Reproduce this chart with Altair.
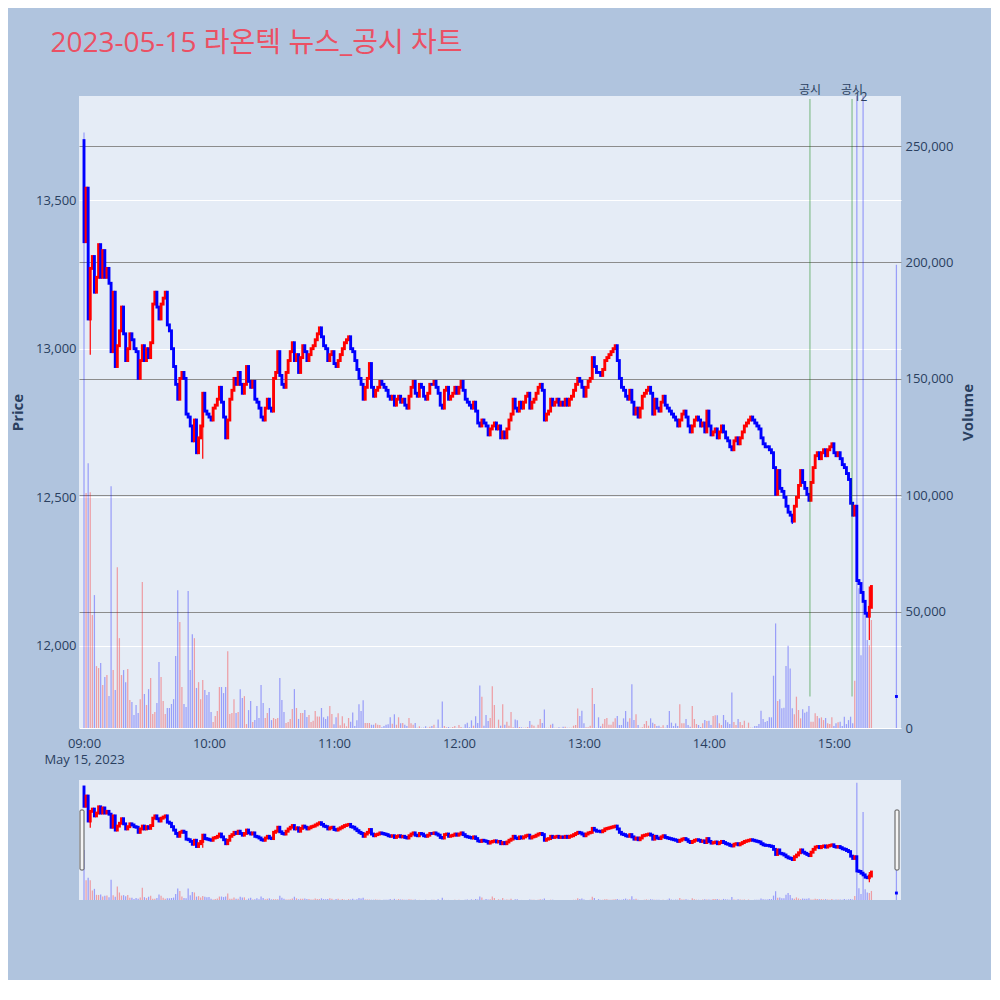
import altair as alt
import pandas as pd

# ---------------- text ----------------
title_text = "2023-05-15 라온텍 뉴스_공시 차트"
date_label = "May 15, 2023"
x_tick_minutes = [0, 60, 120, 180, 240, 300, 360]
x_tick_labels = ["09:00", "10:00", "11:00", "12:00", "13:00", "14:00", "15:00"]
price_ticks = [12000, 12500, 13000, 13500]
volume_ticks = [0, 50000, 100000, 150000, 200000, 250000]

# ---------------- 1-minute closes (minute 0 = 09:00) ----------------
first_open = 13700
close_a = [13360, 13540, 13100, 13270, 13310, 13190, 13240, 13350, 13240, 13330,
           13240, 13270, 13220, 12990, 13190, 12940, 13010, 13060, 13140, 13050,
           12960, 13000, 13050, 13030, 13000, 12990, 12900, 12960, 13010, 12960,
           13000, 12970, 13020, 13150, 13190, 13140, 13100, 13150, 13170, 13190,
           13080, 13060, 13000, 12940, 12880, 12830, 12900, 12920, 12900, 12780,
           12770, 12740, 12690, 12760, 12650, 12700, 12740, 12850, 12790, 12780,
           12770, 12760, 12800, 12810, 12830, 12870, 12820, 12770, 12700, 12760,
           12830, 12860, 12900, 12880, 12920, 12880, 12850, 12880, 12940]
close_b = [12890, 12870, 12890, 12830, 12820, 12800, 12770, 12760, 12800, 12830,
           12800, 12790, 12900, 12920, 12990, 12910, 12880, 12870, 12920, 12960,
           12990, 13020, 12960, 12980, 12920, 12970, 13010, 12990, 12960, 12980,
           13000, 13010, 13030, 13050, 13070, 13040, 13010, 13000, 12960, 12980,
           12990, 12950, 12940, 12960, 12980, 13000, 13020, 13030, 13040, 13000,
           12990, 12960, 12930, 12900, 12880, 12830, 12870, 12900, 12950, 12870,
           12840, 12860, 12870, 12890, 12880, 12870, 12860, 12840, 12830, 12840,
           12810, 12830, 12840, 12820, 12830, 12810, 12800, 12840, 12870, 12890,
           12850, 12840]
close_c = [12880, 12870, 12840, 12830, 12850, 12880, 12880, 12890, 12870, 12850,
           12810, 12800, 12860, 12870, 12830, 12840, 12850, 12870, 12850, 12870,
           12890, 12860, 12830, 12820, 12810, 12800, 12820, 12790, 12750, 12740,
           12760, 12750, 12740, 12710, 12730, 12740, 12750, 12730, 12740, 12700,
           12720, 12700, 12730, 12760, 12780, 12830, 12800, 12790, 12820, 12800,
           12820, 12840, 12850, 12800, 12820, 12830, 12850, 12870, 12880, 12860,
           12760, 12780, 12790, 12830, 12810, 12820, 12830, 12810, 12820, 12810,
           12830, 12810, 12830, 12840, 12860, 12880, 12900, 12890, 12870, 12840,
           12870, 12890, 12900, 12970]
close_d = [12940, 12920, 12920, 12910, 12930, 12960, 12970, 12980, 12990, 13000,
           13010, 12960, 12900, 12870, 12860, 12840, 12830, 12860, 12820, 12780,
           12800, 12770, 12800, 12840, 12850, 12860, 12870, 12850, 12780, 12830,
           12800, 12790, 12820, 12840, 12810, 12800, 12790, 12780, 12770, 12760,
           12740, 12760, 12780, 12790, 12770, 12740, 12720, 12740, 12760, 12770,
           12760, 12740, 12750, 12720, 12790, 12740, 12710, 12720, 12730, 12700,
           12720, 12740, 12720, 12700, 12690, 12670, 12660, 12690, 12700, 12680,
           12700, 12720, 12740, 12750, 12760, 12770, 12760, 12750, 12740, 12730,
           12700]
close_e = [12680, 12670, 12670, 12660, 12650, 12600, 12510, 12590, 12530, 12520,
           12500, 12470, 12450, 12440, 12420, 12470, 12500, 12540, 12590, 12550,
           12530, 12510, 12490, 12550, 12600, 12640, 12650, 12630, 12650, 12660,
           12640, 12660, 12670, 12680, 12650, 12640, 12650, 12630, 12610, 12600,
           12580, 12560, 12480, 12440, 12470, 12220, 12210, 12180, 12150, 12110,
           12100, 12130, 12200]
wick_low = {3: 12980, 57: 12630, 340: 12410, 377: 12020}
wick_high = {377: 12200}

# ---------------- 1-minute volumes ----------------
vol_a = [255800, 100900, 113700, 101300, 48500, 57100, 26600, 25750, 27900, 18450,
         21900, 22750, 13700, 103900, 24900, 16300, 69100, 38600, 22750, 24900,
         19700, 25300, 12000, 11200, 5600, 9900, 6400, 12400, 62700, 14600,
         9900, 16700, 21500, 6000, 6900, 10700, 28300, 21900, 11600, 6000,
         8600, 8600, 10300, 12400, 30900, 59200, 45500, 17600, 10300, 9000,
         58800, 24900, 40300, 38600, 17200, 19700, 12400, 20600, 16300, 14200,
         15500, 6900, 2600, 5200, 7300, 17600, 17600, 15000, 17600, 33000,
         6000, 6400, 12400, 6400, 6900, 16700, 12900, 13700, 1700, 7700,
         11600, 2600, 3400, 9400, 4300, 18450, 10700, 4300, 6400, 8600,
         3400, 4300, 3900, 4300, 21500, 12000, 6900, 2100, 2600, 3900,
         8200, 16700, 8600, 3900, 6400, 6400, 7700, 4700, 5600, 2600,
         3100, 7300, 4900]
vol_b = [4900, 8600, 4600, 3900, 5000, 9400, 6000, 1600, 4600, 6300,
         1150, 5000, 2000, 730, 4300, 2700, 6700, 860, 3300, 10200,
         7300, 11900, 2150, 2150, 2150, 1400, 1400, 2000, 1400, 1300,
         300, 860, 1400, 1600, 4600, 1860, 5900, 1400, 4600, 2000,
         2150, 1400, 860, 4300, 2000, 1400, 2150, 100, 730, 100,
         150, 730, 100, 570, 860, 1400, 100, 3700, 100, 11400,
         860, 300, 430, 100, 430, 860, 100, 1300, 430, 100,
         1600, 2300, 300, 3300, 1000, 5000, 2150, 18300, 13400, 1000,
         5600, 3000, 4300, 17900, 9900, 100, 3600, 1000, 10200, 1400,
         2700, 1000, 6900, 300, 3600, 3300, 430, 300, 100, 150,
         430, 3000, 1400, 1000, 150, 1400, 3900, 2150, 8000, 100,
         100, 1400, 1860, 100, 100, 300, 100, 570, 570, 100,
         150, 100, 1000, 1300, 8400, 5200, 7400, 2000, 300, 300,
         1000, 17200, 10300, 100, 4600, 730, 1860, 3900, 4300, 1400,
         1400, 2700]
vol_c = [4150, 5150, 1300, 1300, 4150, 7300, 2700, 4150, 18750, 3400,
         5860, 1300, 100, 290, 1700, 3000, 1000, 4150, 2300, 1700,
         860, 1000, 290, 1140, 100, 1300, 7300, 2300, 860, 2000,
         860, 10150, 2000, 2000, 3860, 1300, 570, 9440, 3860, 1700,
         1300, 430, 2000, 3400, 3000, 3150, 1300, 5150, 5430, 5430,
         2000, 1300, 5580, 3400, 2430, 1700, 15300, 2575, 1300, 3860,
         2575, 1300, 3150, 100, 2300, 140, 140, 860, 860, 1700,
         7440, 3860, 2575, 3000, 4580, 4580, 22460, 44920, 11590, 12300,
         8440, 8730, 26600, 35340, 25610, 8440, 5860, 13450, 7730, 4150,
         8010, 6580, 7010, 9440, 2700, 2700, 6300, 5150, 4150, 4580,
         3400, 4290, 2000, 1700, 4580, 860, 2000, 2430, 2700, 860,
         4860, 1700, 3400, 4860, 2000, 20310, 600000, 60000, 31300, 450000,
         55000, 37800, 35600, 46400]

# closing auction (15:30)
auction_minute = 390
auction_price = 11830
auction_volume = 199000

# disclosure markers
disclosure_minutes = [348.5, 368.7]
disclosure_label = "공시"
disclosure_span = [11830, 13840]
marker_text = "12"
marker_minute = 372.8

# ---------------- build table ----------------
closes = close_a + close_b + close_c + close_d + close_e
volumes = vol_a + vol_b + vol_c
rows = []
prev = first_open
for m, (c, v) in enumerate(zip(closes, volumes)):
    o = prev
    lo = min(o, c, wick_low.get(m, c))
    hi = max(o, c, wick_high.get(m, c))
    rows.append(dict(m=m, open=o, close=c, low=lo, high=hi, volume=v,
                     dir="up" if c > o else "down"))
    prev = c
rows.append(dict(m=auction_minute, open=auction_price, close=auction_price,
                 low=auction_price, high=auction_price, volume=auction_volume,
                 dir="up" if auction_price > prev else "down"))
df = pd.DataFrame(rows)
df["x0"] = df["m"] - 0.3
df["x1"] = df["m"] + 0.3
df["vzero"] = 0

disc = pd.DataFrame({"minute": disclosure_minutes,
                     "lo": [disclosure_span[0]] * len(disclosure_minutes),
                     "hi": [disclosure_span[1]] * len(disclosure_minutes),
                     "label": [disclosure_label] * len(disclosure_minutes)})
marker = pd.DataFrame({"minute": [marker_minute], "label": [marker_text]})

# ---------------- styles ----------------
FONT = "Open Sans"
TXT = "#2a3f5f"
color_scale = alt.Scale(domain=["up", "down"], range=["#FF0000", "#0000FF"])

labels_js = "[" + ",".join("'%s'" % s for s in x_tick_labels) + "]"
label_expr = ("datum.value == 0 ? ['%s', '%s'] : %s[round(datum.value / 60)]"
              % (x_tick_labels[0], date_label, labels_js))

x_scale = alt.Scale(domain=[-2.4, 392.2], nice=False, zero=False)
x_axis = alt.Axis(values=x_tick_minutes, labelExpr=label_expr, title=None, grid=False,
                  ticks=False, tickSize=0, domain=False, labelPadding=9, labelLineHeight=16,
                  labelFontSize=13, labelFont=FONT, labelColor=TXT, labelFlush=False)

price_scale = alt.Scale(domain=[11724, 13850], nice=False, zero=False)
price_axis = alt.Axis(orient="left", values=price_ticks, format=",d", title="Price",
                      grid=True, gridColor="#ffffff", gridWidth=1, ticks=False, tickSize=0,
                      domain=False, labelPadding=3, labelFontSize=13, labelFont=FONT,
                      labelColor=TXT, titleFont=FONT, titleFontSize=15, titleFontWeight="bold",
                      titleColor=TXT, titlePadding=10)

vol_scale = alt.Scale(domain=[0, 271500], nice=False)
vol_axis = alt.Axis(orient="right", values=volume_ticks, format=",d", title="Volume",
                    grid=True,
                    gridColor={"condition": {"test": "datum.value === 0", "value": "#ffffff"},
                               "value": "#8c8c8c"},
                    gridWidth=1, ticks=False, tickSize=0, domain=False, labelPadding=4,
                    labelFontSize=13, labelFont=FONT, labelColor=TXT, titleFont=FONT,
                    titleFontSize=15, titleFontWeight="bold", titleColor=TXT,
                    titleAngle=270, titleBaseline="top", titlePadding=8)

W = 822
base = alt.Chart(df)

vol_layer = base.mark_bar(clip=True, opacity=0.33).encode(
    x=alt.X("x0:Q", scale=x_scale, axis=x_axis),
    x2="x1:Q",
    y=alt.Y("volume:Q", scale=vol_scale, axis=vol_axis),
    y2="vzero:Q",
    color=alt.Color("dir:N", scale=color_scale, legend=None),
)

wick = base.mark_rule(strokeWidth=1.2).encode(
    x=alt.X("m:Q", scale=x_scale, axis=x_axis),
    y=alt.Y("low:Q", scale=price_scale, axis=price_axis),
    y2="high:Q",
    color=alt.Color("dir:N", scale=color_scale, legend=None),
)
body = base.mark_rule(strokeWidth=2.9, strokeCap="square").encode(
    x=alt.X("m:Q", scale=x_scale, axis=x_axis),
    y=alt.Y("open:Q", scale=price_scale, axis=price_axis),
    y2="close:Q",
    color=alt.Color("dir:N", scale=color_scale, legend=None),
)
disc_rule = alt.Chart(disc).mark_rule(color="green", opacity=0.5, strokeWidth=1).encode(
    x=alt.X("minute:Q", scale=x_scale, axis=x_axis),
    y=alt.Y("lo:Q", scale=price_scale, axis=price_axis),
    y2="hi:Q",
)
disc_text = alt.Chart(disc).mark_text(fontSize=12, font=FONT + ", Noto Sans CJK KR",
                                      color=TXT, baseline="middle").encode(
    x=alt.X("minute:Q", scale=x_scale, axis=x_axis),
    y=alt.value(-6),
    text="label:N",
)
marker_label = alt.Chart(marker).mark_text(fontSize=12, font=FONT, color=TXT,
                                           baseline="middle").encode(
    x=alt.X("minute:Q", scale=x_scale, axis=x_axis),
    y=alt.value(1),
    text="label:N",
)

price_group = alt.layer(wick, body, disc_rule, disc_text, marker_label)
main = alt.layer(vol_layer, price_group).resolve_scale(y="independent").properties(
    width=W, height=632)

# ---------------- range slider ----------------
s_x = alt.X("m:Q", scale=x_scale, axis=None)
s_vol = base.mark_bar(opacity=0.33).encode(
    x=alt.X("x0:Q", scale=x_scale, axis=None), x2="x1:Q",
    y=alt.Y("volume:Q", scale=alt.Scale(domain=[0, 614000], nice=False), axis=None),
    y2="vzero:Q",
    color=alt.Color("dir:N", scale=color_scale, legend=None),
)
s_price_scale = alt.Scale(domain=[11707, 13823], nice=False, zero=False)
s_wick = base.mark_rule(strokeWidth=1.2).encode(
    x=s_x, y=alt.Y("low:Q", scale=s_price_scale, axis=None), y2="high:Q",
    color=alt.Color("dir:N", scale=color_scale, legend=None),
)
s_body = base.mark_rule(strokeWidth=2.9, strokeCap="square").encode(
    x=s_x, y=alt.Y("open:Q", scale=s_price_scale, axis=None), y2="close:Q",
    color=alt.Color("dir:N", scale=color_scale, legend=None),
)
handle_df = pd.DataFrame({"k": [0]})
h_left = alt.Chart(handle_df).mark_rect(fill="#f4f4f4", stroke="#555555", strokeWidth=1,
                                        cornerRadius=1).encode(
    x=alt.value(1), x2=alt.value(5), y=alt.value(30), y2=alt.value(90))
h_right = alt.Chart(handle_df).mark_rect(fill="#f4f4f4", stroke="#555555", strokeWidth=1,
                                         cornerRadius=1).encode(
    x=alt.value(W - 6), x2=alt.value(W - 2), y=alt.value(30), y2=alt.value(90))

slider = alt.layer(s_vol, alt.layer(s_wick, s_body), h_left, h_right).resolve_scale(
    y="independent").properties(width=W, height=120)

chart = alt.vconcat(main, slider, spacing=14).properties(
    title=alt.TitleParams(text=title_text, anchor="start", frame="bounds",
                          font=FONT + ", Noto Sans CJK KR", fontSize=28,
                          fontWeight="normal", color="#EB5064", dx=40, offset=26),
    background="#B0C4DE",
    padding={"left": 2, "top": 22, "right": 15, "bottom": 80},
).configure_view(fill="#E5ECF6", stroke=None)

chart.save("out.html", embed_options={"renderer": "svg", "actions": False})
